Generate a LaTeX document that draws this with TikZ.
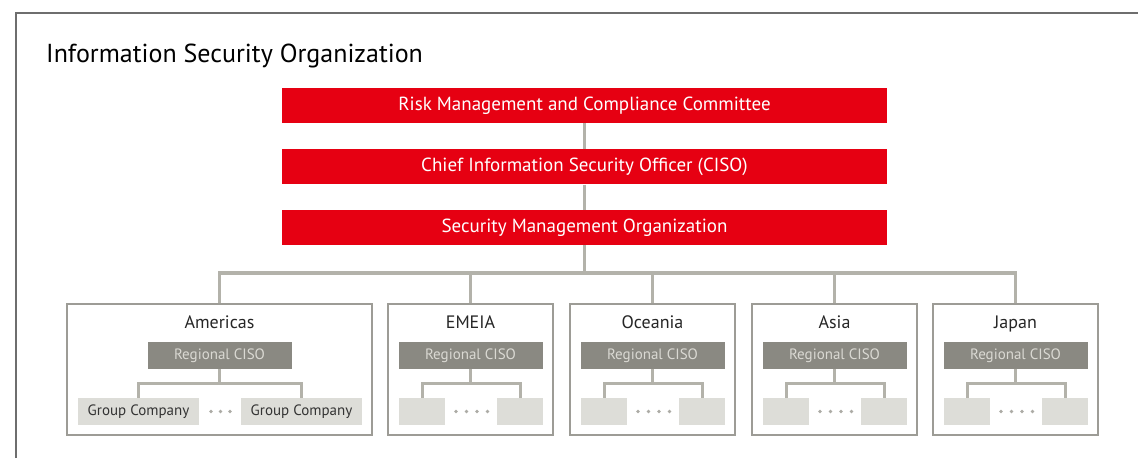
\documentclass[tikz,border=0pt]{standalone}
\usepackage{fontspec}
\setmainfont{PT Sans}
\usetikzlibrary{positioning}
\definecolor{fjred}{HTML}{E60012}
\definecolor{framegray}{HTML}{6E6E6E}
\definecolor{linegray}{HTML}{B3B2AA}
\definecolor{boxgray}{HTML}{9D9C96}
\definecolor{cisogray}{HTML}{8A8982}
\definecolor{cisotext}{HTML}{DAD9D3}
\definecolor{grouplight}{HTML}{DDDDD8}
\definecolor{dotgray}{HTML}{ACABA5}

\begin{document}
\begin{tikzpicture}[x=1pt,y=-1pt,
redbox/.style={fill=fjred,text=white,minimum width=605pt,minimum height=35pt,inner sep=0pt,font=\fontsize{19}{21}\selectfont},
regionbox/.style={draw=boxgray,line width=1.9pt,fill=white,minimum height=131pt,inner sep=0pt},
regionlabel/.style={text=black!85,inner sep=0pt,anchor=base,font=\fontsize{18}{20}\selectfont},
cisobox/.style={fill=cisogray,text=cisotext,minimum width=144pt,minimum height=27pt,inner sep=0pt,font=\fontsize{15}{17}\selectfont},
groupbox/.style={fill=grouplight,text=black!80,minimum height=27pt,inner sep=0pt,font=\fontsize{15}{17}\selectfont},
link/.style={draw=linegray,line width=3.4pt},
sublink/.style={draw=linegray,line width=3pt}]
\useasboundingbox (0,0) rectangle (1138,458);

% frame and title
\draw[framegray,line width=1.4pt] (16,458) -- (16,13) -- (1138,13);
\node (Title) [anchor=base west,inner sep=0pt,font=\fontsize{26}{30}\selectfont] at (46,62) {Information Security Organization};

% committee chain
\node (Rmc) [redbox] at (584.5,105.5) {Risk Management and Compliance Committee};
\node (Ciso) [redbox,below=26pt of Rmc] {Chief Information Security Officer (CISO)};
\node (Smo) [redbox,below=25pt of Ciso] {Security Management Organization};
\draw[link] (Rmc) -- (Ciso);
\draw[link] (Ciso) -- (Smo);
\coordinate (Bus) at (584.5,273);
\draw[link] (Smo.south) -- (Bus);

% Americas
\node (Americas) [regionbox,minimum width=305pt] at (219.5,369.5) {};
\node (AmLabel) [regionlabel] at (219.5,328.5) {Americas};
\node (AmCiso) [cisobox] at (219.5,355.5) {Regional CISO};
\node (AmGroupL) [groupbox,minimum width=121pt] at (138.5,411.5) {Group Company};
\node (AmGroupR) [groupbox,minimum width=121pt] at (301.5,411.5) {Group Company};
\coordinate (AmBus) at (219.5,383);
\draw[link] (Americas.north) |- (Bus);
\draw[sublink] (AmCiso.south) -- (AmBus);
\draw[sublink] (AmGroupL.north) |- (AmBus);
\draw[sublink] (AmGroupR.north) |- (AmBus);
\foreach \dx in {211,220.5,230}
  \fill[dotgray] (\dx,411.5) circle (1.8pt);

% other regions
\foreach \reg/\cx in {EMEIA/470.5,Oceania/652.5,Asia/834.5,Japan/1015.5}{
  \node (\reg) [regionbox,minimum width=165pt] at (\cx,369.5) {};
  \node (\reg Label) [regionlabel] at (\cx,328.5) {\reg};
  \node (\reg Ciso) [cisobox] at (\cx,355.5) {Regional CISO};
  \node (\reg GroupL) [groupbox,minimum width=46pt] at (\cx-48.5,411.5) {};
  \node (\reg GroupR) [groupbox,minimum width=46pt] at (\cx+49.5,411.5) {};
  \coordinate (\reg Bus) at (\cx,383);
  \draw[link] (\reg.north) |- (Bus);
  \draw[sublink] (\reg Ciso.south) -- (\reg Bus);
  \draw[sublink] (\reg GroupL.north) |- (\reg Bus);
  \draw[sublink] (\reg GroupR.north) |- (\reg Bus);
  \foreach \dx in {-14.5,-4,6.5,17}
    \fill[dotgray] (\cx+\dx,411.5) circle (1.8pt);
}
\end{tikzpicture}
\end{document}
